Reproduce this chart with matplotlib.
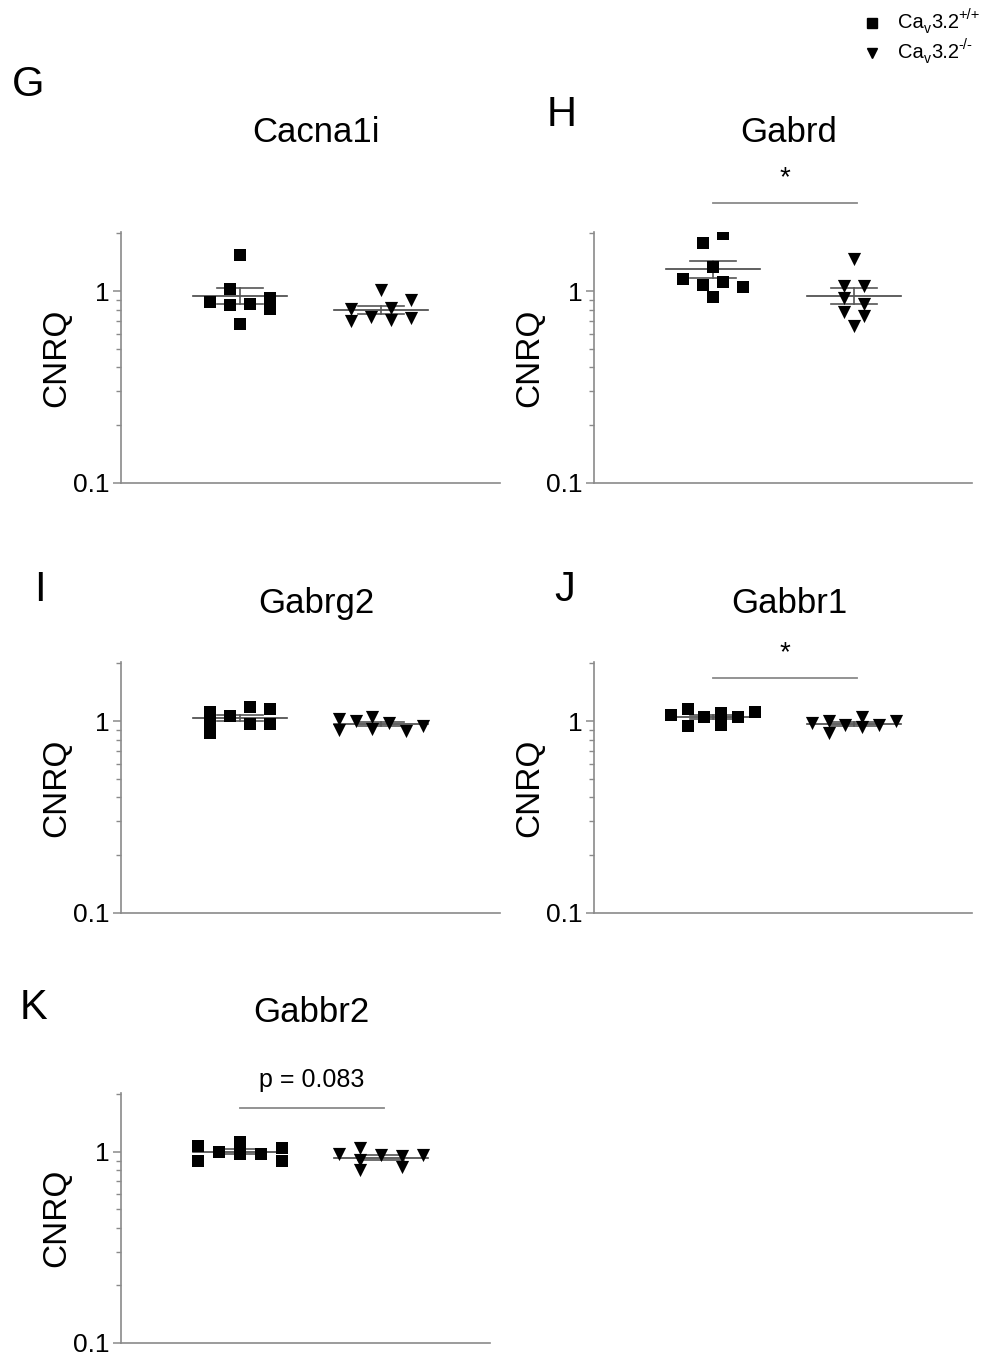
import numpy as np
import matplotlib
matplotlib.use("Agg")
import matplotlib.pyplot as plt

plt.rcParams["font.family"] = ["Liberation Sans", "DejaVu Sans"]

# ---- data: relative expression (CNRQ) per gene, WT vs KO ----
genes = ["Cacna1i", "Gabrd", "Gabrg2", "Gabbr1", "Gabbr2"]
panel_letters = ["G", "H", "I", "J", "K"]
group_genotypes = ["+/+", "-/-"]

cacna1i_wt = [1.54, 1.03, 0.88, 0.845, 0.855, 0.916, 0.81, 0.67]
cacna1i_ko = [1.01, 0.90, 0.81, 0.82, 0.70, 0.73, 0.71, 0.72]
gabrd_wt = [1.98, 1.77, 1.33, 1.15, 1.07, 1.11, 1.05, 0.93]
gabrd_ko = [1.46, 1.06, 1.06, 0.916, 0.86, 0.78, 0.74, 0.66]
gabrg2_wt = [1.11, 0.98, 0.863, 1.06, 1.19, 0.965, 1.16, 0.97]
gabrg2_ko = [1.02, 0.90, 1.00, 1.05, 0.905, 0.98, 0.89, 0.945]
gabbr1_wt = [1.075, 1.15, 0.945, 1.05, 1.10, 0.953, 1.045, 1.12]
gabbr1_ko = [0.98, 1.00, 0.863, 0.953, 1.05, 0.927, 0.953, 1.00]
gabbr2_wt = [1.075, 0.90, 1.00, 1.13, 0.976, 0.976, 1.045, 0.89]
gabbr2_ko = [0.97, 1.045, 0.91, 0.80, 0.965, 0.95, 0.83, 0.965]

significance = [None, "*", None, "*", "p = 0.083"]

series = [
    (cacna1i_wt, cacna1i_ko),
    (gabrd_wt, gabrd_ko),
    (gabrg2_wt, gabrg2_ko),
    (gabbr1_wt, gabbr1_ko),
    (gabbr2_wt, gabbr2_ko),
]

# ---- horizontal scatter of points within each group (pixels, 141 px per group step) ----
spread = [
    ([0, -10, -30, -10, 10, 30, 30, 0], [0, 30, -30, 10, -30, -10, 10, 30]),
    ([10, -10, 0, -30, -10, 10, 30, 0], [0, -10, 10, -10, 10, -10, 10, 0]),
    ([-30, -30, -30, -10, 10, 10, 30, 30], [-42, -42, -25, -9, -9, 8, 25, 42]),
    ([-42, -25, -25, -9, 8, 8, 25, 42], [-42, -25, -25, -9, 8, 8, 25, 42]),
    ([-42, -42, -21, 0, 0, 21, 42, 42], [-42, -21, -21, -21, 0, 21, 21, 42]),
]
PX_PER_UNIT = 141.0
FIRST_GROUP_INSET = 119.0  # pixels from the y axis to the first group

# bracket height and label height (data units) for the significance marks
bracket_y = [None, 2.87, None, 1.67, 1.70]
bracket_text_y = [None, 3.85, None, 2.25, 2.37]

W, H = 987, 1356
fig = plt.figure(figsize=(W / 100, H / 100), dpi=100)

# axes rectangles in pixel coordinates: left, top, right, bottom
rects = [
    (121, 232, 500, 483),
    (594, 232, 972, 483),
    (121, 662, 500, 913),
    (594, 662, 972, 913),
    (121, 1093, 490, 1343),
]
letter_pos = [(28, 85), (562, 115), (40, 590), (565, 590), (33, 1008)]
title_y = [133, 133, 603, 603, 1013]

spine_col = "#8a8a8a"
markers = ["s", "v"]

for i, (gene, (wt, ko)) in enumerate(zip(genes, series)):
    l, t, r, b = rects[i]
    ax = fig.add_axes([l / W, 1 - b / H, (r - l) / W, (b - t) / H])
    ax.set_yscale("log")
    ax.set_ylim(0.1, 2.03)
    x0 = 1 - FIRST_GROUP_INSET / PX_PER_UNIT
    ax.set_xlim(x0, x0 + (r - l) / PX_PER_UNIT)
    for s in ["top", "right"]:
        ax.spines[s].set_visible(False)
    for s in ["left", "bottom"]:
        ax.spines[s].set_color(spine_col)
        ax.spines[s].set_linewidth(1.2)
    ax.set_xticks([])
    ax.set_yticks([0.1, 1])
    ax.set_yticklabels(["0.1", "1"])
    ax.yaxis.set_minor_locator(matplotlib.ticker.LogLocator(base=10, subs=np.arange(2, 10)))
    ax.yaxis.set_minor_formatter(matplotlib.ticker.NullFormatter())
    ax.tick_params(axis="y", which="major", length=6, width=1.1, color=spine_col,
                   labelsize=19, pad=2)
    ax.tick_params(axis="y", which="minor", length=3.5, width=1.0, color=spine_col)
    ax.set_ylabel("CNRQ", fontsize=24, labelpad=1)

    for g, (vals, offs) in enumerate(zip((wt, ko), spread[i])):
        vals = np.asarray(vals)
        xc = g + 1
        xs = xc + np.asarray(offs) / PX_PER_UNIT
        mean = vals.mean()
        sem = vals.std(ddof=1) / np.sqrt(len(vals))
        ax.plot([xc - 0.335, xc + 0.335], [mean, mean], color="#444444", lw=1.2, zorder=2)
        ax.plot([xc - 0.165, xc + 0.165], [mean + sem, mean + sem], color="#555555", lw=1.2, zorder=2)
        ax.plot([xc - 0.165, xc + 0.165], [mean - sem, mean - sem], color="#555555", lw=1.2, zorder=2)
        ax.plot([xc, xc], [mean - sem, mean + sem], color="#555555", lw=1.2, zorder=2)
        ax.scatter(xs, vals, marker=markers[g], s=75 if g == 0 else 90,
                   color="black", linewidths=0, zorder=3)

    # title and panel letter
    fig.text(((l + r) / 2 + 6) / W, 1 - title_y[i] / H, gene, fontsize=25,
             ha="center", va="center")
    lx, ly = letter_pos[i]
    fig.text(lx / W, 1 - ly / H, panel_letters[i], fontsize=30, ha="center", va="center")

    # significance bracket between the two groups
    sig = significance[i]
    if sig is not None:
        ax.plot([1.0, 2.02], [bracket_y[i], bracket_y[i]], color=spine_col,
                lw=1.3, clip_on=False)
        ax.text(1.51, bracket_text_y[i], sig, fontsize=20 if sig == "*" else 18,
                ha="center", va="center")

# legend at top right: marker + "Ca_v3.2^genotype" assembled from pieces
renderer = fig.canvas.get_renderer()
for k, (mk, geno) in enumerate(zip(markers, group_genotypes)):
    y = 22 + 30 * k
    x = 898
    yb = H - (y + 6)  # baseline in display pixels (origin bottom-left)
    pieces = [("Ca", 14.5, 0), ("v", 10, -5), ("3.2", 14.5, 0), (geno, 10.5, 9)]
    for txt, fs, dy in pieces:
        tt = fig.text(x / W, (yb + dy) / H, txt, fontsize=fs, ha="left", va="baseline")
        x += tt.get_window_extent(renderer).width
    fig.add_artist(matplotlib.lines.Line2D([872 / W], [1 - (y + 1) / H], marker=mk,
                                           markersize=7, color="black", linestyle="none",
                                           transform=fig.transFigure))

fig.savefig("out.png", dpi=100, facecolor="white")
